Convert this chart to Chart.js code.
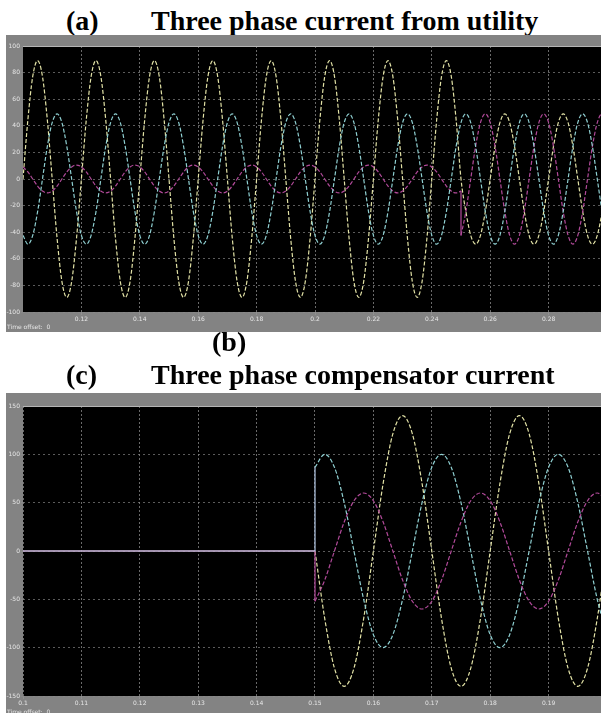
<!DOCTYPE html>
<html><head><meta charset="utf-8">
<script src="https://cdn.jsdelivr.net/npm/chart.js@4.4.1/dist/chart.umd.min.js"></script>
<style>
html,body{margin:0;padding:0;background:#fff;width:601px;height:713px;overflow:hidden;position:relative;}
.t{position:absolute;font-family:"Liberation Serif","Times New Roman",serif;font-weight:bold;font-size:28px;color:#000;white-space:nowrap;line-height:28px;}
.panel{position:absolute;left:6px;background:#838383;overflow:hidden;}
#p1{top:35px;width:602px;height:297px;}
#p2{top:393px;width:602px;height:320px;}
canvas{display:block;}
.off{position:absolute;left:7px;font:6px "DejaVu Sans",sans-serif;color:#e6e6e6;white-space:nowrap;}
</style></head>
<body>
<div class="t" style="left:66px;top:7px;">(a)</div>
<div class="t" style="left:151px;top:7px;">Three phase current from utility</div>
<div class="panel" id="p1"><canvas id="c1" width="602" height="297"></canvas></div>
<div class="off" style="top:323px;">Time offset:&nbsp; 0</div>
<div class="t" style="left:212px;top:328px;">(b)</div>
<div class="t" style="left:66px;top:361px;">(c)</div>
<div class="t" style="left:151px;top:361px;">Three phase compensator current</div>
<div class="panel" id="p2"><canvas id="c2" width="602" height="320"></canvas></div>
<div class="off" style="top:708px;">Time offset:&nbsp; 0</div>
<script>
// ---------- (a) utility current ----------
const utilTime = [
0.1,0.10167,0.10333,0.105,0.10667,0.10833,
0.11,0.11167,0.11333,0.115,0.11667,0.11833,
0.12,0.12167,0.12333,0.125,0.12667,0.12833,
0.13,0.13167,0.13333,0.135,0.13667,0.13833,
0.14,0.14167,0.14333,0.145,0.14667,0.14833,
0.15,0.15167,0.15333,0.155,0.15667,0.15833,
0.16,0.16167,0.16333,0.165,0.16667,0.16833,
0.17,0.17167,0.17333,0.175,0.17667,0.17833,
0.18,0.18167,0.18333,0.185,0.18667,0.18833,
0.19,0.19167,0.19333,0.195,0.19667,0.19833,
0.2,0.20167,0.20333,0.205,0.20667,0.20833,
0.21,0.21167,0.21333,0.215,0.21667,0.21833,
0.22,0.22167,0.22333,0.225,0.22667,0.22833,
0.23,0.23167,0.23333,0.235,0.23667,0.23833,
0.24,0.24167,0.24333,0.245,0.24667,0.24833,
0.25,0.25167,0.25333,0.255,0.25667,0.25833,
0.26,0.26167,0.26333,0.265,0.26667,0.26833,
0.27,0.27167,0.27333,0.275,0.27667,0.27833,
0.28,0.28167,0.28333,0.285,0.28667,0.28833,
0.29,0.29167,0.29333,0.295,0.29667,0.29833,
0.3];
const utilPhaseA = [
0,44.5,77.1,89,77.1,44.5,0,-44.5,-77.1,-89,-77.1,-44.5,
0,44.5,77.1,89,77.1,44.5,0,-44.5,-77.1,-89,-77.1,-44.5,
0,44.5,77.1,89,77.1,44.5,0,-44.5,-77.1,-89,-77.1,-44.5,
0,44.5,77.1,89,77.1,44.5,0,-44.5,-77.1,-89,-77.1,-44.5,
0,44.5,77.1,89,77.1,44.5,0,-44.5,-77.1,-89,-77.1,-44.5,
0,44.5,77.1,89,77.1,44.5,0,-44.5,-77.1,-89,-77.1,-44.5,
0,44.5,77.1,89,77.1,44.5,0,-44.5,-77.1,-89,-77.1,-44.5,
0,44.5,77.1,89,77.1,44.5,0,-24.5,-42.4,-49,-42.4,-24.5,
0,24.5,42.4,49,42.4,24.5,0,-24.5,-42.4,-49,-42.4,-24.5,
0,24.5,42.4,49,42.4,24.5,0,-24.5,-42.4,-49,-42.4,-24.5,
0];
const utilPhaseB = [
-42.4,-49,-42.4,-24.5,0,24.5,42.4,49,42.4,24.5,0,-24.5,
-42.4,-49,-42.4,-24.5,0,24.5,42.4,49,42.4,24.5,0,-24.5,
-42.4,-49,-42.4,-24.5,0,24.5,42.4,49,42.4,24.5,0,-24.5,
-42.4,-49,-42.4,-24.5,0,24.5,42.4,49,42.4,24.5,0,-24.5,
-42.4,-49,-42.4,-24.5,0,24.5,42.4,49,42.4,24.5,0,-24.5,
-42.4,-49,-42.4,-24.5,0,24.5,42.4,49,42.4,24.5,0,-24.5,
-42.4,-49,-42.4,-24.5,0,24.5,42.4,49,42.4,24.5,0,-24.5,
-42.4,-49,-42.4,-24.5,0,24.5,42.4,49,42.4,24.5,0,-24.5,
-42.4,-49,-42.4,-24.5,0,24.5,42.4,49,42.4,24.5,0,-24.5,
-42.4,-49,-42.4,-24.5,0,24.5,42.4,49,42.4,24.5,0,-24.5,
-42.4];
const utilPhaseC = [
9.1,5.3,0,-5.3,-9.1,-10.5,-9.1,-5.3,0,5.3,9.1,10.5,
9.1,5.3,0,-5.3,-9.1,-10.5,-9.1,-5.3,0,5.3,9.1,10.5,
9.1,5.3,0,-5.3,-9.1,-10.5,-9.1,-5.3,0,5.3,9.1,10.5,
9.1,5.3,0,-5.3,-9.1,-10.5,-9.1,-5.3,0,5.3,9.1,10.5,
9.1,5.3,0,-5.3,-9.1,-10.5,-9.1,-5.3,0,5.3,9.1,10.5,
9.1,5.3,0,-5.3,-9.1,-10.5,-9.1,-5.3,0,5.3,9.1,10.5,
9.1,5.3,0,-5.3,-9.1,-10.5,-9.1,-5.3,0,5.3,9.1,10.5,
9.1,5.3,0,-5.3,-9.1,-10.5,-42.4,-24.5,0,24.5,42.4,49,
42.4,24.5,0,-24.5,-42.4,-49,-42.4,-24.5,0,24.5,42.4,49,
42.4,24.5,0,-24.5,-42.4,-49,-42.4,-24.5,0,24.5,42.4,49,
42.4];
const utilSwitchTime = 0.25;
const utilPhaseCBeforeSwitch = -9.1;
const utilXTicks = [0.12,0.14,0.16,0.18,0.2,0.22,0.24,0.26,0.28];
const utilXLabels = ['0.12','0.14','0.16','0.18','0.2','0.22','0.24','0.26','0.28'];
const utilYTicks = [-100,-80,-60,-40,-20,0,20,40,60,80,100];
const utilYLabels = ['-100','-80','-60','-40','-20','0','20','40','60','80','100'];

// ---------- (c) compensator current ----------
const compIdleTime = [0.1, 0.15];
const compIdle = [0, 0];
const compTime = [
0.15,0.15167,0.15333,0.155,0.15667,0.15833,
0.16,0.16167,0.16333,0.165,0.16667,0.16833,
0.17,0.17167,0.17333,0.175,0.17667,0.17833,
0.18,0.18167,0.18333,0.185,0.18667,0.18833,
0.19,0.19167,0.19333,0.195,0.19667,0.19833,
0.2];
const compPhaseA = [
0,-70,-121.2,-140,-121.2,-70,0,70,121.2,140,121.2,70,
0,-70,-121.2,-140,-121.2,-70,0,70,121.2,140,121.2,70,
0,-70,-121.2,-140,-121.2,-70,0];
const compPhaseB = [
86.6,100,86.6,50,0,-50,-86.6,-100,-86.6,-50,0,50,
86.6,100,86.6,50,0,-50,-86.6,-100,-86.6,-50,0,50,
86.6,100,86.6,50,0,-50,-86.6];
const compPhaseC = [
-52,-30,0,30,52,60,52,30,0,-30,-52,-60,
-52,-30,0,30,52,60,52,30,0,-30,-52,-60,
-52,-30,0,30,52,60,52];
const compXTicks = [0.1,0.11,0.12,0.13,0.14,0.15,0.16,0.17,0.18,0.19];
const compXLabels = ['0.1','0.11','0.12','0.13','0.14','0.15','0.16','0.17','0.18','0.19'];
const compYTicks = [-150,-100,-50,0,50,100,150];
const compYLabels = ['-150','-100','-50','0','50','100','150'];

// ---------- styling ----------
const colA = '#e2e2a6', colB = '#8fd0d2', colC = '#b24a9a';
const pts = (xs, ys) => xs.map((x, i) => ({x: x, y: ys[i]}));

function curve(data, color, smooth, dash) {
  return {data: data, borderColor: color, borderWidth: 1.2, borderDash: dash || [4, 2],
    pointRadius: 0, fill: false, tension: 0,
    cubicInterpolationMode: smooth ? 'monotone' : 'default'};
}

const bgPlugin = {
  id: 'scopeBg',
  beforeDraw(chart) {
    const a = chart.chartArea, ctx = chart.ctx;
    ctx.save();
    ctx.fillStyle = '#000';
    ctx.fillRect(a.left, a.top, a.right - a.left, a.bottom - a.top);
    ctx.restore();
  },
  beforeDatasetsDraw(chart) {
    const a = chart.chartArea, ctx = chart.ctx;
    ctx.save();
    ctx.strokeStyle = '#b5b5b5'; ctx.lineWidth = 1;
    ctx.beginPath(); ctx.moveTo(a.left, a.top + 0.5); ctx.lineTo(a.right, a.top + 0.5); ctx.stroke();
    ctx.restore();
  }
};

function scopeOptions(xMin, xMax, xTicks, xLabels, yMin, yMax, yTicks, yLabels, padTop, xH) {
  const tickFont = {family: 'DejaVu Sans', size: 6};
  return {
    responsive: false, animation: false, devicePixelRatio: 1,
    layout: {padding: {top: padTop, right: 1, left: 0, bottom: 0}},
    plugins: {legend: {display: false}, tooltip: {enabled: false}},
    scales: {
      x: {type: 'linear', min: xMin, max: xMax,
        afterBuildTicks: s => { s.ticks = xTicks.map(v => ({value: v})); },
        afterFit: s => { s.height = xH; },
        ticks: {color: '#e6e6e6', font: tickFont, padding: 1, maxRotation: 0, autoSkip: false,
          callback: (v, i) => xLabels[i]},
        grid: {color: 'rgba(150,150,150,0.7)', lineWidth: 1, tickLength: 3, drawTicks: true},
        border: {display: false, dash: [2, 2]}},
      y: {type: 'linear', min: yMin, max: yMax,
        afterBuildTicks: s => { s.ticks = yTicks.map(v => ({value: v})); },
        afterFit: s => { s.width = 17; },
        ticks: {color: '#e6e6e6', font: tickFont, padding: 1, autoSkip: false,
          callback: (v, i) => yLabels[i]},
        grid: {color: 'rgba(140,140,140,0.65)', lineWidth: 1, tickLength: 2, drawTicks: true},
        border: {display: false, dash: [2, 3]}}
    }
  };
}

// chart (a)
const sw = utilTime.indexOf(utilSwitchTime);
new Chart(document.getElementById('c1'), {
  type: 'line',
  data: {datasets: [
    curve(pts(utilTime, utilPhaseB), colB, true),
    curve(pts(utilTime.slice(0, sw), utilPhaseC.slice(0, sw)).concat([{x: utilSwitchTime, y: utilPhaseCBeforeSwitch}]), colC, true),
    curve([{x: utilSwitchTime, y: utilPhaseCBeforeSwitch}, {x: utilSwitchTime, y: utilPhaseC[sw]}], colC, false, []),
    curve(pts(utilTime.slice(sw), utilPhaseC.slice(sw)), colC, true),
    curve(pts(utilTime, utilPhaseA), colA, true)
  ]},
  options: scopeOptions(0.1, 0.3, utilXTicks, utilXLabels, -100, 100, utilYTicks, utilYLabels, 11, 20),
  plugins: [bgPlugin]
});

// chart (c)
new Chart(document.getElementById('c2'), {
  type: 'line',
  data: {datasets: [
    curve(pts(compIdleTime, compIdle).concat([{x: compTime[0], y: compPhaseB[0]}]), '#b4c8e6', false, []),
    curve(pts(compIdleTime, compIdle).concat([{x: compTime[0], y: compPhaseC[0]}]), colC, false, []),
    curve(pts(compIdleTime, compIdle).concat([{x: compTime[0], y: compPhaseA[0]}]), colA, false, []),
    curve(pts(compTime, compPhaseC), colC, true),
    curve(pts(compTime, compPhaseB), colB, true),
    curve(pts(compTime, compPhaseA), colA, true)
  ]},
  options: scopeOptions(0.1, 0.2, compXTicks, compXLabels, -150, 150, compYTicks, compYLabels, 13, 17),
  plugins: [bgPlugin]
});
</script>
</body></html>
